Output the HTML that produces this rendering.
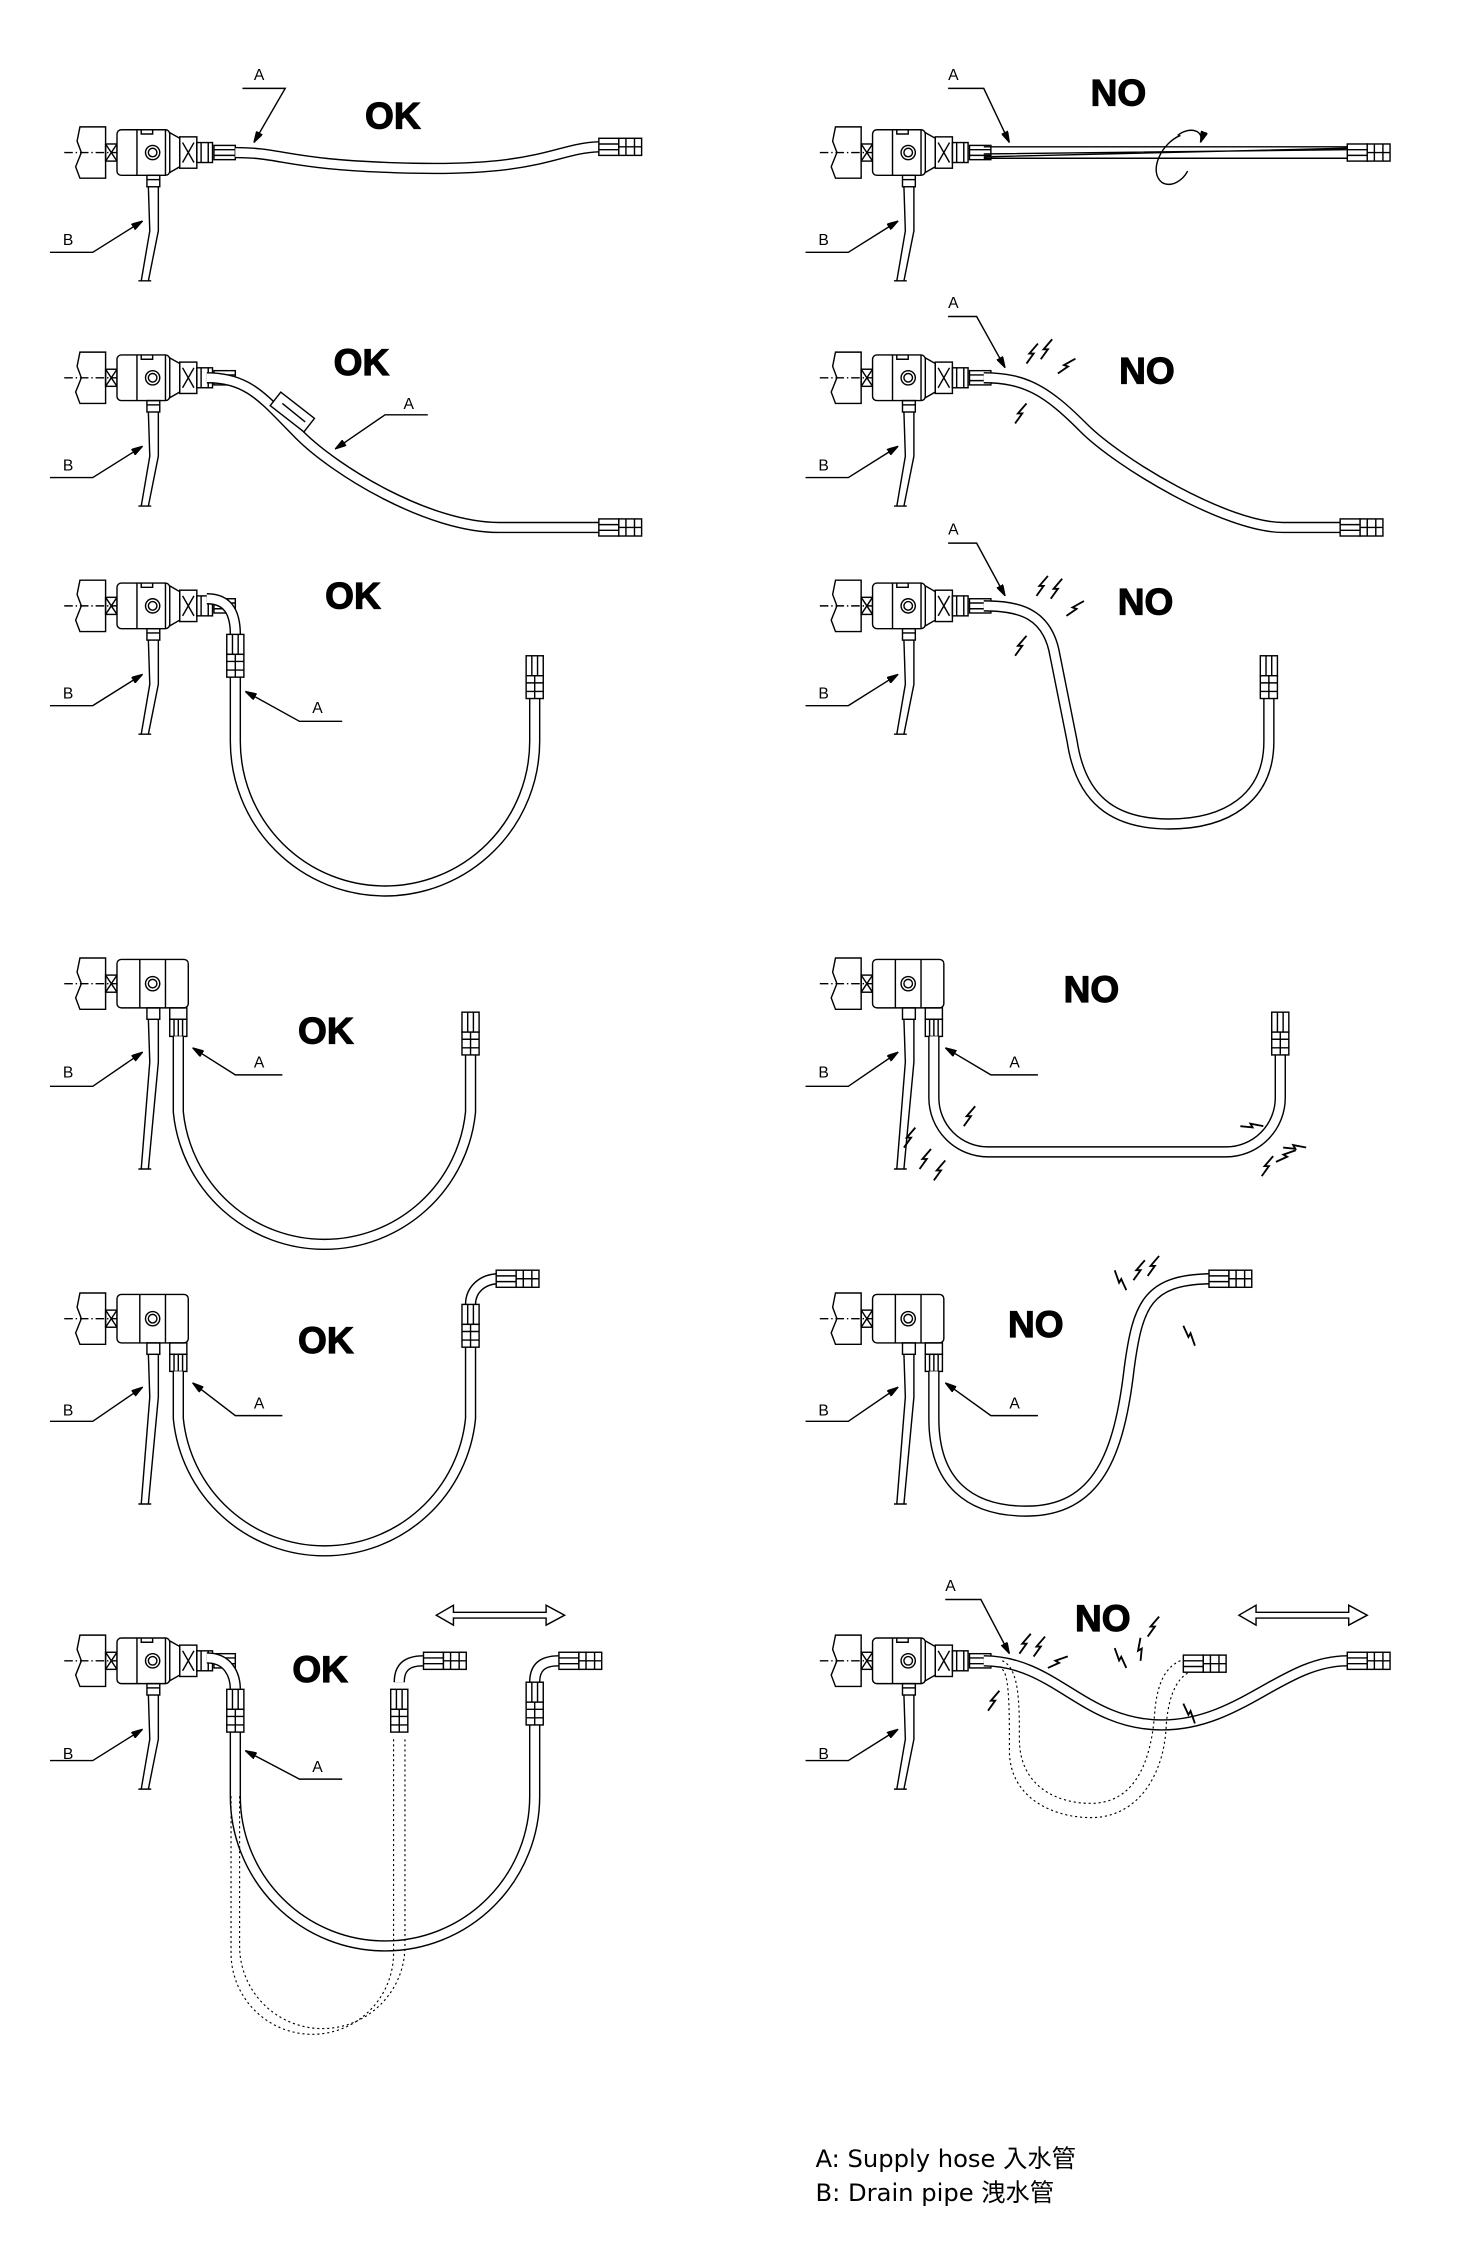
<!DOCTYPE html>
<html><head><meta charset="utf-8"><style>
html,body{margin:0;padding:0;background:#fff}
svg{display:block}
.ok{font-family:"Liberation Sans",sans-serif;font-weight:bold;font-size:26px}
.l{font-family:"Liberation Sans",sans-serif;font-size:11px}
.lg{font-family:"DejaVu Sans","Noto Sans CJK TC",sans-serif;font-size:17px}
</style></head><body>
<svg width="1460" height="2251" viewBox="0 0 1024 1579" xmlns="http://www.w3.org/2000/svg" fill="none" stroke="#000" stroke-width="1">
<defs>
<marker id="ar" viewBox="0 0 10 6" refX="10" refY="3" markerWidth="8" markerHeight="5" orient="auto"><path d="M0,0L10,3L0,6z" fill="#000"/></marker>
<g id="wall">
<path d="M56,-18 L54,-8 L57,0 L53,10 L56,18 L74,18 L74,-18 Z" fill="#fff"/>
<path d="M45,0H82" stroke-dasharray="6,2,1,2"/>
<rect x="74" y="-6" width="8" height="12"/><path d="M74,-6L82,6M82,-6L74,6"/>
</g>
<g id="v">
<use href="#wall"/>
<rect x="82" y="-16" width="37" height="32" rx="3" fill="#fff"/>
<path d="M96,-16V16M116,-16V16M99,-16v3h8v-3"/>
<circle cx="107" cy="0" r="5"/><circle cx="107" cy="0" r="3"/>
<path d="M119,-14L126,-10V10L119,14"/>
<rect x="126" y="-11" width="12" height="22"/><path d="M128,-7L136,7M136,-7L128,7"/>
<rect x="138" y="-7" width="11" height="14"/><path d="M141,-7V7M146,-7V7"/>
<rect x="150" y="-5" width="15" height="10"/><path d="M150,-2H165M150,2H165"/>
<rect x="103" y="16" width="9" height="8"/><path d="M103,19H112"/>
<path d="M104,24 L105,55 L99,90 M111,24 L111,55 L104,90 M97,90h9"/>
<path d="M35,70H65L100,48" marker-end="url(#ar)"/>
</g>
<g id="ve">
<use href="#wall"/>
<rect x="82" y="-17" width="50" height="34" rx="3" fill="#fff"/>
<path d="M98,-17V17M116,-17V17"/>
<circle cx="107" cy="0" r="5"/><circle cx="107" cy="0" r="3"/>
<rect x="119" y="17" width="12" height="8"/>
<rect x="119" y="25" width="12" height="12"/><path d="M122,25V37M125,25V37M128,25V37"/>
<rect x="103" y="17" width="9" height="8"/>
<path d="M104,25 L105,55 L99,130 M111,25 L111,55 L104,130 M97,130h9"/>
<path d="M35,72H65L100,48" marker-end="url(#ar)"/>
</g>
<g id="fe"><rect x="0" y="-6" width="14" height="12" fill="#fff"/><path d="M0,-2H14M0,2H14"/><rect x="14" y="-6" width="16" height="12" fill="#fff"/><path d="M19,-6V6M25,-6V6M14,0H30"/></g>
<g id="fv"><rect x="-6" y="0" width="12" height="14" fill="#fff"/><path d="M-2,0V14M2,0V14"/><rect x="-6" y="14" width="12" height="16" fill="#fff"/><path d="M-6,19H6M-6,25H6M0,14V30"/></g>
<path id="sp" d="M0,0 L5,-7 L2,-7 L8,-14" stroke-width="1.3"/>
</defs>

<use href="#v" y="107"/><use href="#v" x="530" y="107"/>
<use href="#v" y="265"/><use href="#v" x="530" y="265"/>
<use href="#v" y="425"/><use href="#v" x="530" y="425"/>
<use href="#ve" y="690"/><use href="#ve" x="530" y="690"/>
<use href="#ve" y="925"/><use href="#ve" x="530" y="925"/>
<use href="#v" y="1165"/><use href="#v" x="530" y="1165"/>
<g class="l" fill="#000" stroke="none">
<text x="44" y="172">B</text><text x="574" y="172">B</text>
<text x="44" y="330">B</text><text x="574" y="330">B</text>
<text x="44" y="490">B</text><text x="574" y="490">B</text>
<text x="44" y="756">B</text><text x="574" y="756">B</text>
<text x="44" y="993">B</text><text x="574" y="993">B</text>
<text x="44" y="1234">B</text><text x="574" y="1234">B</text>
</g>

<g id="hoses" stroke="#000" stroke-width="8">
<path d="M165,107 C200,107 200,116 290,118 S390,104 420,103"/>
<path d="M145,265 C175,265 185,280 210,305 S300,370 350,370 L420,370"/>
<path d="M145,420 C160,420 165,430 165,445 L165,520 A105,105 0 0 0 375,520 L375,490"/>
<path d="M125,727 L125,780 A103,103 0 0 0 330,780 L330,740"/>
<path d="M125,962 L125,995 A103,103 0 0 0 330,995 L330,945"/>
<path d="M330,915 C330,905 338,897 350,897"/>
<path d="M145,1163 C160,1163 165,1175 165,1185 L165,1260 A105,105 0 0 0 375,1260 L375,1200"/>
<path d="M375,1180 C375,1170 380,1165 392,1165"/>
<path d="M280,1180 C280,1170 285,1165 297,1165"/>
<path d="M690,265 C720,265 735,275 760,300 S860,370 900,370 L940,370"/>
<path d="M690,425 C715,425 735,430 740,460 L752,520 C758,560 780,578 820,578 C860,578 890,560 890,520 L890,490"/>
<path d="M655,727 L655,770 A38,38 0 0 0 693,808 L860,808 A38,38 0 0 0 898,770 L898,740"/>
<path d="M655,962 L655,995 C655,1040 680,1060 720,1060 C770,1060 785,1020 792,960 C798,915 805,898 848,897"/>
<path d="M690,1165 C740,1165 760,1210 815,1210 S900,1165 945,1165"/>
</g>
<g stroke="#fff" stroke-width="6">
<path d="M165,107 C200,107 200,116 290,118 S390,104 420,103"/>
<path d="M145,265 C175,265 185,280 210,305 S300,370 350,370 L420,370"/>
<path d="M145,420 C160,420 165,430 165,445 L165,520 A105,105 0 0 0 375,520 L375,490"/>
<path d="M125,727 L125,780 A103,103 0 0 0 330,780 L330,740"/>
<path d="M125,962 L125,995 A103,103 0 0 0 330,995 L330,945"/>
<path d="M330,915 C330,905 338,897 350,897"/>
<path d="M145,1163 C160,1163 165,1175 165,1185 L165,1260 A105,105 0 0 0 375,1260 L375,1200"/>
<path d="M375,1180 C375,1170 380,1165 392,1165"/>
<path d="M280,1180 C280,1170 285,1165 297,1165"/>
<path d="M690,265 C720,265 735,275 760,300 S860,370 900,370 L940,370"/>
<path d="M690,425 C715,425 735,430 740,460 L752,520 C758,560 780,578 820,578 C860,578 890,560 890,520 L890,490"/>
<path d="M655,727 L655,770 A38,38 0 0 0 693,808 L860,808 A38,38 0 0 0 898,770 L898,740"/>
<path d="M655,962 L655,995 C655,1040 680,1060 720,1060 C770,1060 785,1020 792,960 C798,915 805,898 848,897"/>
<path d="M690,1165 C740,1165 760,1210 815,1210 S900,1165 945,1165"/>
</g>

<path d="M690,103H945M690,111H945M690,110L945,104M690,108L945,105"/>
<path d="M828,95 C815,100 805,120 815,128 C822,132 830,126 833,120"/>
<path d="M826,95 C835,88 845,92 842,100" marker-end="url(#ar)"/>

<g stroke-dasharray="1.5,2" stroke-width="0.8">
<path d="M162,1260 L162,1370 A57,57 0 0 0 276,1370 L276,1220"/>
<path d="M168,1260 L168,1365 A50,50 0 0 0 284,1365 L284,1220"/>
<path d="M703,1165 C715,1170 715,1195 715,1220 C715,1252 740,1265 765,1265 C798,1265 808,1232 810,1200 C812,1180 818,1160 845,1163"/>
<path d="M703,1171 C708,1175 708,1200 708,1228 C708,1262 740,1275 765,1275 C800,1275 817,1242 818,1210 C820,1185 828,1170 845,1171"/>
</g>

<use href="#fe" x="420" y="103"/><use href="#fe" x="945" y="107"/>
<use href="#fe" x="420" y="370"/><use href="#fe" x="940" y="370"/>
<use href="#fv" x="375" y="460"/><use href="#fv" x="890" y="460"/>
<use href="#fv" x="165" y="445"/>
<use href="#fv" x="330" y="710"/><use href="#fv" x="898" y="710"/>
<use href="#fv" x="330" y="915"/><use href="#fe" x="348" y="897"/><use href="#fe" x="848" y="897"/>
<use href="#fv" x="165" y="1185"/><use href="#fv" x="280" y="1185"/><use href="#fv" x="375" y="1180"/>
<use href="#fe" x="297" y="1165"/><use href="#fe" x="392" y="1165"/>
<use href="#fe" x="830" y="1167"/><use href="#fe" x="945" y="1165"/>
<rect x="190" y="283" width="30" height="12" transform="rotate(38 205 289)" fill="#fff"/>
<path d="M198,283 L214,296" />

<g>
<path d="M170,62H200L178,100" marker-end="url(#ar)"/>
<path d="M300,291H270L235,315" marker-end="url(#ar)"/>
<path d="M240,506H210L172,485" marker-end="url(#ar)"/>
<path d="M198,754H165L135,735" marker-end="url(#ar)"/>
<path d="M198,993H165L135,970" marker-end="url(#ar)"/>
<path d="M240,1248H210L172,1228" marker-end="url(#ar)"/>
<path d="M665,62H690L708,100" marker-end="url(#ar)"/>
<path d="M665,222H685L705,258" marker-end="url(#ar)"/>
<path d="M665,381H685L705,418" marker-end="url(#ar)"/>
<path d="M728,754H695L663,735" marker-end="url(#ar)"/>
<path d="M728,993H695L663,970" marker-end="url(#ar)"/>
<path d="M663,1122H688L708,1160" marker-end="url(#ar)"/>
</g>
<g class="l" fill="#000" stroke="none">
<text x="178" y="56">A</text><text x="283" y="287">A</text><text x="219" y="500">A</text>
<text x="178" y="749">A</text><text x="178" y="988">A</text><text x="219" y="1243">A</text>
<text x="665" y="56">A</text><text x="665" y="216">A</text><text x="665" y="375">A</text>
<text x="708" y="749">A</text><text x="708" y="988">A</text><text x="663" y="1116">A</text>
</g>

<g>
<use href="#sp" x="720" y="255"/><use href="#sp" x="730" y="252"/><use href="#sp" x="742" y="262" transform="rotate(20 742 262)"/><use href="#sp" x="712" y="297"/>
<use href="#sp" x="727" y="418"/><use href="#sp" x="737" y="420"/><use href="#sp" x="748" y="432" transform="rotate(20 748 432)"/><use href="#sp" x="712" y="460"/>
<use href="#sp" x="676" y="790"/><use href="#sp" x="634" y="805"/><use href="#sp" x="645" y="820"/><use href="#sp" x="655" y="828"/>
<use href="#sp" x="870" y="790" transform="rotate(60 870 790)"/><use href="#sp" x="885" y="825"/><use href="#sp" x="895" y="815" transform="rotate(30 895 815)"/><use href="#sp" x="900" y="805" transform="rotate(60 900 805)"/>
<use href="#sp" x="790" y="905" transform="rotate(-60 790 905)"/><use href="#sp" x="795" y="898"/><use href="#sp" x="805" y="895"/><use href="#sp" x="830" y="930" transform="rotate(120 830 930)"/>
<use href="#sp" x="715" y="1160"/><use href="#sp" x="725" y="1162"/><use href="#sp" x="735" y="1170" transform="rotate(30 735 1170)"/><use href="#sp" x="693" y="1200"/>
<use href="#sp" x="790" y="1170" transform="rotate(-60 790 1170)"/><use href="#sp" x="800" y="1165" transform="rotate(-30 800 1165)"/><use href="#sp" x="805" y="1148"/><use href="#sp" x="830" y="1195" transform="rotate(120 830 1195)"/>
</g>

<path d="M306,1133 L318,1126 V1131 H383 V1126 L396,1133 L383,1140 V1135 H318 V1140 Z"/>
<path d="M869,1133 L881,1126 V1131 H946 V1126 L959,1133 L946,1140 V1135 H881 V1140 Z"/>

<g class="ok" fill="#000" stroke="#000" stroke-width="0.8">
<text x="256" y="90">OK</text><text x="234" y="263">OK</text><text x="228" y="427">OK</text>
<text x="209" y="732">OK</text><text x="209" y="949">OK</text><text x="205" y="1180">OK</text>
<text x="765" y="74">NO</text><text x="785" y="269">NO</text><text x="784" y="431">NO</text>
<text x="746" y="703">NO</text><text x="707" y="938">NO</text><text x="754" y="1144">NO</text>
</g>

<g class="lg" fill="#000" stroke="none">
<text x="572" y="1520">A: Supply hose 入水管</text>
<text x="572" y="1544">B: Drain pipe 洩水管</text>
</g>
</svg>
</body></html>
